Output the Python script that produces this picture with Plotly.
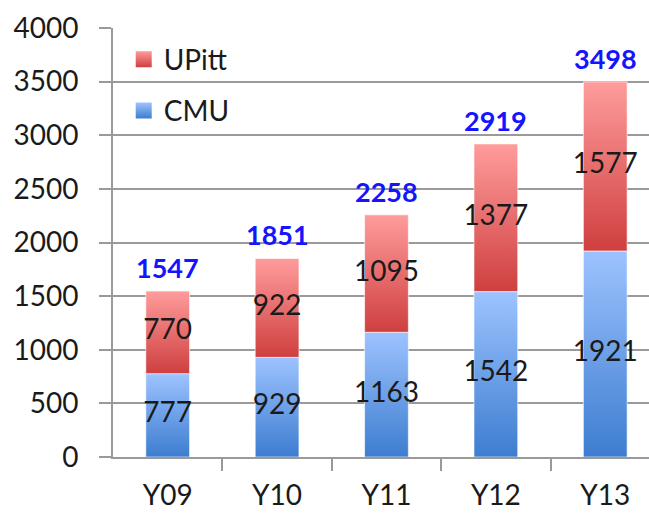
import plotly.graph_objects as go

categories = ["Y09", "Y10", "Y11", "Y12", "Y13"]
cmu = [777, 929, 1163, 1542, 1921]
upitt = [770, 922, 1095, 1377, 1577]
totals = [1547, 1851, 2258, 2919, 3498]

FONT = "Lato"
TXT = "#1a1a1a"
GRID = "#9a9a9a"
BAR_W = 0.4

series = [
    # name, values, base values, dark (bottom), light (top)
    ("CMU", cmu, [0] * len(cmu), "#3d7dd0", "#9dc3ff"),
    ("UPitt", upitt, cmu, "#cf3f3f", "#ff9c9c"),
]

fig = go.Figure()

idx = list(range(len(categories)))

for name, vals, bases, dark, light in series:
    for i, v, b in zip(idx, vals, bases):
        x0, x1 = i - BAR_W / 2, i + BAR_W / 2
        fig.add_trace(go.Scatter(
            x=[x0, x1, x1, x0, x0],
            y=[b, b, b + v, b + v, b],
            mode="lines",
            fill="toself",
            fillgradient=dict(type="vertical", colorscale=[[0, dark], [1, light]]),
            line=dict(width=1, color="rgba(255,255,255,0.6)"),
            showlegend=False,
            hoverinfo="skip",
        ))
    fig.add_trace(go.Scatter(
        x=idx,
        y=[b + v / 2 for v, b in zip(vals, bases)],
        mode="text",
        text=[str(v) for v in vals],
        textfont=dict(family=FONT, size=28, color=TXT),
        showlegend=False,
        hoverinfo="skip",
    ))

# legend entries (UPitt first, on top); gradient colour = bottom colour
for name, vals, bases, dark, light in reversed(series):
    fig.add_trace(go.Scatter(
        x=[None], y=[None], mode="markers", name=name,
        legendgroup=name,
        marker=dict(symbol="square", size=19, color=light,
                    gradient=dict(type="vertical", color=dark),
                    line=dict(width=0)),
    ))

for i, t in zip(idx, totals):
    fig.add_annotation(
        x=i, y=t, text=f"<b>{t}</b>", showarrow=False,
        yanchor="bottom", yshift=5,
        font=dict(family=FONT, size=27, color="#1414ff"),
    )

fig.update_layout(
    width=649, height=514,
    margin=dict(l=113, r=0, t=28, b=57, autoexpand=False),
    paper_bgcolor="white", plot_bgcolor="white",
    font=dict(family=FONT, size=28, color=TXT),
    showlegend=True,
    legend=dict(
        x=0.02, y=0.985, xanchor="left", yanchor="top",
        font=dict(family=FONT, size=28, color=TXT),
        traceorder="grouped", tracegroupgap=12,
        bgcolor="rgba(0,0,0,0)",
    ),
    xaxis=dict(
        range=[-0.5, 4.4],
        tickmode="array", tickvals=idx, ticktext=categories,
        ticks="", showgrid=False, zeroline=False,
        showline=True, linecolor=GRID, linewidth=2,
        tickfont=dict(family=FONT, size=28, color=TXT),
        ticklabelstandoff=12,
        minor=dict(tickmode="array", tickvals=[0.5, 1.5, 2.5, 3.5],
                   ticks="outside", ticklen=12, tickwidth=2, tickcolor=GRID,
                   showgrid=False),
        fixedrange=True,
    ),
    yaxis=dict(
        range=[0, 4000], tickmode="linear", tick0=0, dtick=500,
        showgrid=True, gridcolor=GRID, gridwidth=2,
        zeroline=False,
        showline=True, linecolor=GRID, linewidth=2,
        ticks="outside", ticklen=12, tickwidth=2, tickcolor=GRID,
        tickfont=dict(family=FONT, size=28, color=TXT),
        ticklabelstandoff=15,
        fixedrange=True,
    ),
)

fig.write_html(
    "out.html",
    config={"displayModeBar": False},
    post_script="document.body.style.margin='0';document.body.style.overflow='hidden';",
)
